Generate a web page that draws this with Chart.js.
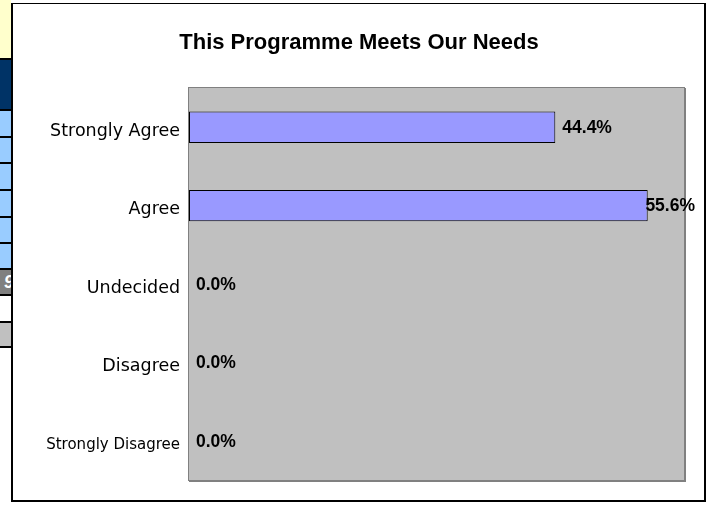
<!DOCTYPE html>
<html>
<head>
<meta charset="utf-8">
<script src="https://cdn.jsdelivr.net/npm/chart.js@4.4.0/dist/chart.umd.min.js"></script>
<style>
  html, body { margin: 0; padding: 0; background: #fff; }
  #wrap { position: relative; width: 711px; height: 505px; overflow: hidden; }
  .cell { position: absolute; left: 0; width: 11px; box-sizing: border-box; border-bottom: 2px solid #000; }
  #frame { position: absolute; left: 11px; top: 3px; width: 695px; height: 499px; box-sizing: border-box;
           border: 2px solid #000; border-top-width: 1px; background: #fff; }
  canvas { position: absolute; left: 0; top: 0; }
</style>
</head>
<body>
<div id="wrap">
  <div class="cell" style="top:0;height:60px;background:#ffffcc"></div>
  <div class="cell" style="top:60px;height:51px;background:#003366"></div>
  <div class="cell" style="top:111px;height:27px;background:#99ccff"></div>
  <div class="cell" style="top:138px;height:26px;background:#99ccff"></div>
  <div class="cell" style="top:164px;height:27px;background:#99ccff"></div>
  <div class="cell" style="top:191px;height:27px;background:#99ccff"></div>
  <div class="cell" style="top:218px;height:26px;background:#99ccff"></div>
  <div class="cell" style="top:244px;height:26px;background:#99ccff"></div>
  <div class="cell" style="top:270px;height:26px;background:#808080;color:#fff;font:italic bold 18px 'Liberation Sans';text-align:right;line-height:24px;overflow:hidden;white-space:nowrap"><span style="margin-right:-3px">9</span></div>
  <div class="cell" style="top:296px;height:27px;background:#fff"></div>
  <div class="cell" style="top:323px;height:25px;background:#c0c0c0"></div>
  <div id="frame"></div>
  <canvas id="chart" width="711" height="505"></canvas>
</div>
<script>
// ====================================================
// Datos del gráfico
// ====================================================
const chartTitle = "This Programme Meets Our Needs";
const categories = ["Strongly Agree", "Agree", "Undecided", "Disagree", "Strongly Disagree"];
const percentValues = [44.4, 55.6, 0.0, 0.0, 0.0];
const axisMax = 60;

// ====================================================
// Fondo gris del área de trazado + título
// ====================================================
const plotBackground = {
  id: "plotBackground",
  beforeDraw(chart) {
    const { ctx, chartArea: a } = chart;
    ctx.save();
    ctx.fillStyle = "#c0c0c0";
    ctx.fillRect(a.left, a.top, a.right - a.left, a.bottom - a.top);
    ctx.strokeStyle = "#808080";
    ctx.lineWidth = 1;
    ctx.strokeRect(a.left - 0.5, a.top - 0.5, a.right - a.left + 1, a.bottom - a.top + 1);
    ctx.lineWidth = 2;
    ctx.beginPath();
    ctx.moveTo(a.right + 1, a.top);
    ctx.lineTo(a.right + 1, a.bottom + 1);
    ctx.lineTo(a.left, a.bottom + 1);
    ctx.stroke();

    ctx.fillStyle = "#000";
    ctx.font = "bold 22px 'Liberation Sans', Arial";
    ctx.textAlign = "center";
    ctx.textBaseline = "middle";
    ctx.fillText(chartTitle, 359, 43);
    ctx.restore();
  },
};

// ====================================================
// Etiquetas de valor al final de cada barra
// ====================================================
const valueLabels = {
  id: "valueLabels",
  afterDatasetsDraw(chart) {
    const { ctx } = chart;
    const meta = chart.getDatasetMeta(0);
    ctx.save();
    ctx.fillStyle = "#000";
    ctx.font = "bold 17.5px 'Liberation Sans', Arial";
    ctx.textAlign = "left";
    ctx.textBaseline = "middle";
    meta.data.forEach((bar, i) => {
      const text = percentValues[i].toFixed(1) + "%";
      const w = ctx.measureText(text).width;
      let x = bar.x + 7;
      if (x + w > 695) x = 695 - w;
      ctx.fillText(text, x, bar.y + 1);
    });
    ctx.restore();
  },
};

new Chart(document.getElementById("chart"), {
  type: "bar",
  data: {
    labels: categories,
    datasets: [
      {
        data: percentValues,
        backgroundColor: "#9999ff",
        borderColor: "#000",
        borderWidth: 1,
        borderSkipped: false,
        categoryPercentage: 1,
        barPercentage: 0.4,
      },
    ],
  },
  options: {
    indexAxis: "y",
    responsive: false,
    animation: false,
    layout: { padding: { left: 14, right: 27, top: 88, bottom: 25 } },
    plugins: {
      legend: { display: false },
      tooltip: { enabled: false },
    },
    scales: {
      x: { display: false, min: 0, max: axisMax },
      y: {
        grid: { display: false, drawTicks: false },
        border: { display: false },
        afterFit(scale) { scale.width = 175; },
        ticks: {
          padding: 9,
          labelOffset: 4,
          color: "#000",
          font: (ctx) => ({
            family: "'DejaVu Sans'",
            size: ctx.index === 4 ? 15 : 17.5,
          }),
        },
      },
    },
  },
  plugins: [plotBackground, valueLabels],
});
</script>
</body>
</html>
